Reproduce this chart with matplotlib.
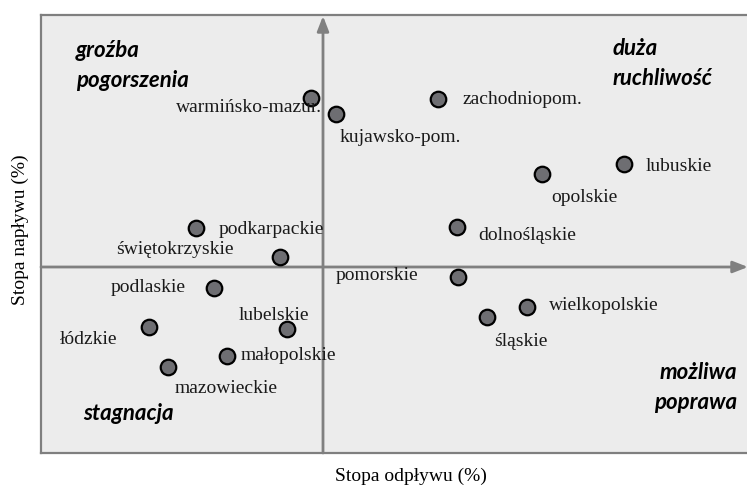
import matplotlib.pyplot as plt

# Regions: outflow rate (x) vs inflow rate (y)
regions = ['warmińsko-mazur.', 'kujawsko-pom.', 'zachodniopom.', 'lubuskie',
           'opolskie', 'dolnośląskie', 'podkarpackie', 'świętokrzyskie',
           'podlaskie', 'łódzkie', 'lubelskie', 'małopolskie', 'mazowieckie',
           'pomorskie', 'wielkopolskie', 'śląskie']
outflow = [1.44, 1.565, 2.075, 3.005, 2.595, 2.17, 0.865, 1.285,
           0.955, 0.63, 1.32, 1.02, 0.725, 2.175, 2.52, 2.32]
inflow = [1.845, 1.765, 1.84, 1.515, 1.465, 1.2, 1.195, 1.05,
          0.895, 0.70, 0.69, 0.555, 0.50, 0.95, 0.80, 0.75]

# crossing point of the quadrant axes
x_mid, y_mid = 1.5, 1.0

# label placement (offset in pixels, horizontal alignment)
label_pos = [(11, -10, 'right'), (4, -23, 'left'), (24, -1, 'left'), (22, -2, 'left'),
             (9, -23, 'left'), (21, -8, 'left'), (23, -2, 'left'), (-46, 7, 'right'),
             (-28, 0, 'right'), (-32, -12, 'right'), (-13, 14, 'center'), (14, 0, 'left'),
             (58, -21, 'center'), (-40, 1, 'right'), (22, 1, 'left'), (34, -25, 'center')]

W, H = 747, 486
fig = plt.figure(figsize=(W / 100, H / 100), dpi=100)
ax = fig.add_axes([41 / W, 33 / H, (W - 41) / W, (453 - 15) / H])
ax.set_facecolor('#ececec')
ax.set_xlim(0.09, 3.62)
ax.set_ylim(0.07, 2.26)
ax.set_xticks([])
ax.set_yticks([])
for s in ax.spines.values():
    s.set_color('#7f7f7f')
    s.set_linewidth(1.6)
ax.spines['right'].set_visible(False)

grey = '#808080'
arrow = dict(arrowstyle='-|>,head_length=0.9,head_width=0.35', color=grey, lw=2,
             shrinkA=0, shrinkB=0)
ax.annotate('', xy=(x_mid, 2.255), xytext=(x_mid, 0.07), arrowprops=arrow)
ax.annotate('', xy=(3.625, y_mid), xytext=(0.09, y_mid), arrowprops=arrow,
            annotation_clip=False)

ax.scatter(outflow, inflow, s=125, c='#6e6e72', edgecolors='black',
           linewidths=1.6, zorder=3)

serif = 'Liberation Serif'
for name, x, y, (dx, dy, ha) in zip(regions, outflow, inflow, label_pos):
    ax.annotate(name, (x, y), xytext=(dx, dy), textcoords='offset pixels',
                ha=ha, va='center', fontsize=14, family=serif, color='#1a1a1a',
                zorder=4)

qfont = dict(family='Lato', fontsize=16, fontweight='bold', style='italic',
             color='black', transform=ax.transAxes, va='top', linespacing=1.55)
ax.text((76 - 41) / 706, (453 - 40) / 438, 'groźba\npogorszenia', ha='left', **qfont)
ax.text((613 - 41) / 706, (453 - 38) / 438, 'duża\nruchliwość', ha='left', **qfont)
ax.text((83 - 41) / 706, (453 - 403) / 438, 'stagnacja', ha='left', **qfont)
ax.text((737 - 41) / 706, (453 - 362) / 438, 'możliwa\npoprawa', ha='right', **qfont)

fig.text(411 / W, 1 - 476 / H, 'Stopa odpływu (%)', ha='center', va='center',
         family=serif, fontsize=14)
fig.text(20 / W, 1 - 230 / H, 'Stopa napływu (%)', ha='center', va='center',
         rotation=90, family=serif, fontsize=14)

fig.savefig('out.png', dpi=100)
